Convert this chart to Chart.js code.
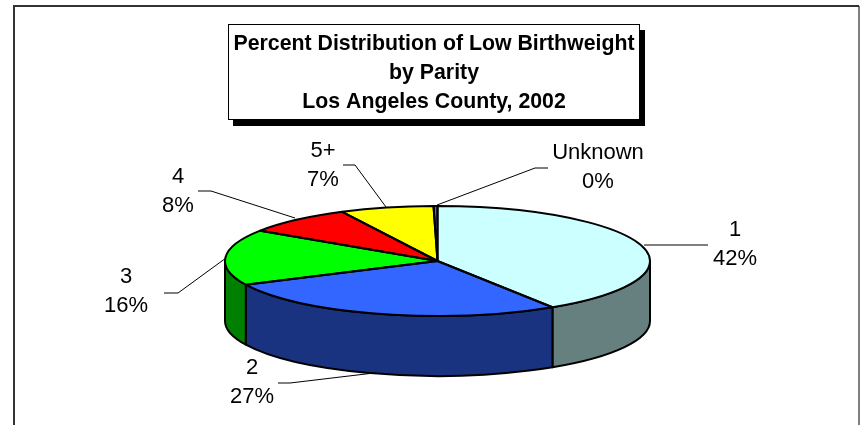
<!DOCTYPE html>
<html><head><meta charset="utf-8">
<style>html,body{margin:0;padding:0;background:#fff}canvas{display:block}#w{width:860px;height:425px}</style>
<script src="https://cdn.jsdelivr.net/npm/chart.js@4"></script></head>
<body><div id="w"><canvas id="c"></canvas></div>
<script>
const categories = ['1','2','3','4','5+','Unknown'];
const values = [40.9,27.0,16.4,8.3,7.1,0.3];
const percentLabels = ['42%','27%','16%','8%','7%','0%'];
const topColors = ['#CCFFFF','#3366FF','#00FF00','#FF0000','#FFFF00','#6666CC'];
const sideColors = ['#668080','#1A3380','#008000','#800000','#808000','#333366'];
const titleLines = ['Percent Distribution of Low Birthweight','by Parity','Los Angeles County, 2002'];

const PIE = {cx:437.5, cy:261, squash:55/212.5, depth:60};
const labelLayout = [
 {x:735,y:230,line:[[644,245],[708,245]]},
 {x:252,y:368,line:[[278,383],[290,383],[374,373]]},
 {x:126,y:277,line:[[164,293],[178,293],[226,258]]},
 {x:178,y:177,line:[[198,191],[211,191],[295,218]]},
 {x:323,y:151,line:[[343,165],[355,165],[386,207]]},
 {x:598,y:153,line:[[548,168],[535,168],[437,205]]}
];
const FONT='"Liberation Sans", Arial, sans-serif';

function applyPie(ctx,a){
 ctx.translate(PIE.cx,PIE.cy);ctx.scale(1,PIE.squash);ctx.translate(-a.x,-a.y);
}
const pie3d={
 id:'pie3d',
 beforeDraw(chart){
  const c=chart.ctx;c.save();
  c.fillStyle='#fff';c.fillRect(0,0,chart.width,chart.height);
  c.strokeStyle='#333';c.lineWidth=2;
  c.beginPath();c.moveTo(14,425);c.lineTo(14,6);c.lineTo(859,6);c.stroke();
  c.strokeStyle='#000';c.lineWidth=1;
  c.beginPath();c.moveTo(859,6);c.lineTo(859,425);c.stroke();
  c.fillStyle='#000';c.fillRect(233,30,412,96);
  c.fillStyle='#fff';c.fillRect(228.5,24.5,411,95);
  c.strokeStyle='#000';c.lineWidth=1;c.strokeRect(228.5,24.5,411,95);
  c.restore();
 },
 beforeDatasetsDraw(chart){
  const c=chart.ctx,arcs=chart.getDatasetMeta(0).data;
  const rx=arcs[0].outerRadius,ry=rx*PIE.squash;
  c.save();
  arcs.forEach((a,i)=>{
   let s=Math.max(a.startAngle,0),e=Math.min(a.endAngle,Math.PI);
   if(e<=s)return;
   c.beginPath();
   c.ellipse(PIE.cx,PIE.cy,rx,ry,0,s,e);
   c.ellipse(PIE.cx,PIE.cy+PIE.depth,rx,ry,0,e,s,true);
   c.closePath();
   c.fillStyle=sideColors[i];c.fill();
   c.strokeStyle='#000';c.lineWidth=2;c.lineJoin='round';c.stroke();
  });
  c.restore();
  c.save();
  applyPie(c,arcs[0]);
 },
 afterDatasetsDraw(chart){
  const c=chart.ctx,arcs=chart.getDatasetMeta(0).data;
  c.restore();
  c.save();
  c.strokeStyle='#000';c.lineWidth=2;c.lineJoin='round';
  arcs.forEach(a=>{
   c.save();applyPie(c,a);
   c.beginPath();c.moveTo(a.x,a.y);c.arc(a.x,a.y,a.outerRadius,a.startAngle,a.endAngle);c.closePath();
   c.restore();
   c.stroke();
  });
  c.strokeStyle='#000';c.lineWidth=1;c.fillStyle='#000';
  c.font='22px '+FONT;c.textAlign='center';c.textBaseline='middle';
  labelLayout.forEach((l,i)=>{
   c.beginPath();l.line.forEach((p,j)=>j?c.lineTo(p[0],p[1]):c.moveTo(p[0],p[1]));c.stroke();
   c.fillText(categories[i],l.x,l.y);
   c.fillText(percentLabels[i],l.x,l.y+28.5);
  });
  c.restore();
 }
};
new Chart(document.getElementById('c'),{
 type:'pie',
 data:{labels:categories,datasets:[{data:values,backgroundColor:topColors,borderWidth:0,clip:false,radius:212.5,hoverOffset:0}]},
 plugins:[pie3d],
 options:{
  responsive:true,maintainAspectRatio:false,animation:false,events:[],
  layout:{padding:{left:8}},
  plugins:{legend:{display:false},tooltip:{enabled:false},
   title:{display:true,text:titleLines,color:'#000',
    font:{family:FONT,size:21.3,weight:'bold',lineHeight:1.35},padding:{top:30,bottom:0}}}
 }
});
</script></body></html>
